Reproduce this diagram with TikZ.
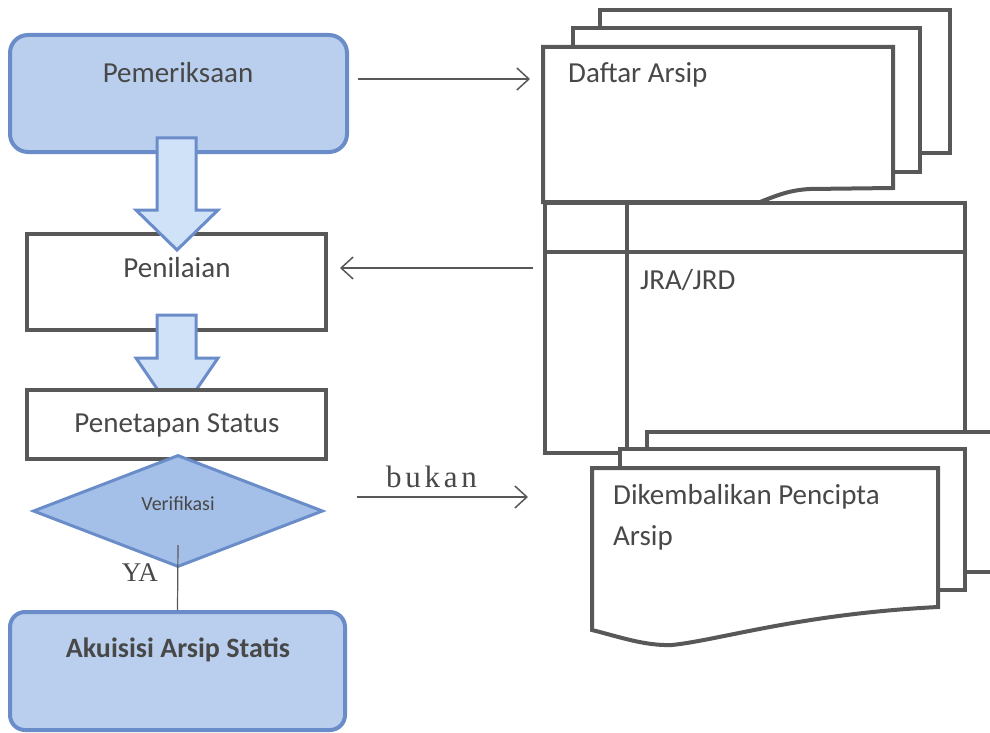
\documentclass[tikz,border=0pt]{standalone}
\usepackage{fontspec}
\setmainfont{Carlito}
\newfontfamily\serifteks{Liberation Serif}
\newfontfamily\serifjarang[LetterSpace=12]{Liberation Serif}
\usepackage{xcolor}
\usetikzlibrary{shapes.geometric, positioning, arrows.meta}

\definecolor{birutepi}{RGB}{106,141,202}
\definecolor{biruisi}{RGB}{186,207,238}
\definecolor{birumuda}{RGB}{208,226,247}
\definecolor{biruwajik}{RGB}{164,192,232}
\definecolor{abugaris}{RGB}{88,88,88}
\definecolor{abuteks}{RGB}{72,72,72}

\tikzset{
  kotakbiru/.style={draw=birutepi, fill=biruisi, line width=4pt, rounded corners=18pt, inner sep=0pt},
  kotak/.style={draw=abugaris, fill=white, line width=4pt, inner sep=0pt},
  wajik/.style={diamond, draw=birutepi, fill=biruwajik, line width=3pt, inner sep=0pt},
  judul/.style={text=abuteks, font=\fontsize{29}{41}\selectfont, inner sep=0pt},
  kertas/.style={draw=abugaris, fill=white, line width=4pt},
  panahblok/.style={draw=birutepi, fill=birumuda, line width=3pt},
  panah/.style={draw=abugaris, line width=1.5pt, -{Straight Barb[length=12pt, width=22pt, line width=1.5pt]}},
}

\begin{document}
\begin{tikzpicture}[x=1pt, y=-1pt]
  \clip (0, 0) rectangle (990, 733);
  \useasboundingbox (0, 0) rectangle (990, 733);

  % Alur sebelah kiri
  \node[kotakbiru, minimum width=337pt, minimum height=117pt] (periksa) at (178.5, 93.5) {};
  \node[judul] (tperiksa) at (178, 73) {Pemeriksaan};
  \node[kotak, minimum width=299pt, minimum height=96pt] (nilai) at (176.5, 282) {};
  \node[judul] (tnilai) at (177, 268) {Penilaian};

  % Panah blok
  \draw[panahblok] (157, 138) -- (196, 138) -- (196, 210) -- (218, 210) -- (177, 250)
    -- (136, 210) -- (157, 210) -- cycle;
  \draw[panahblok] (157, 315) -- (196, 315) -- (196, 358) -- (218, 358) -- (177, 418)
    -- (136, 358) -- (157, 358) -- cycle;

  \node[kotak, minimum width=299pt, minimum height=69pt] (tetap) at (176.5, 424.5) {};
  \node[judul] (ttetap) at (177, 425) {Penetapan Status};
  \node[wajik, minimum width=290pt, minimum height=112pt] (verif) at (178, 511) {};
  \node[judul, font=\fontsize{20}{24}\selectfont] (tverif) at (178, 504) {Verifikasi};
  \node[kotakbiru, rounded corners=15pt, minimum width=335pt, minimum height=118pt] (akuisisi) at (177.5, 671) {};
  \node[judul, font=\fontsize{28}{34}\selectfont\bfseries] (takuisisi) at (178, 650) {Akuisisi Arsip Statis};

  \draw[abugaris, line width=1.2pt] ([yshift=-34pt]verif.center)
    -- node[pos=0.42, left=16pt, text=abuteks, font=\serifteks\fontsize{27}{30}\selectfont] (tya) {YA} (akuisisi.north);

  % Tumpukan daftar arsip
  \draw[kertas] (600, 10) rectangle (950, 153);
  \draw[kertas] (573, 28) rectangle (920, 172);
  \draw[kertas] (543, 202) -- (543, 47) -- (893, 47) -- (893, 188) -- (810, 189)
    .. controls (790, 190) and (778, 195) .. (760, 202) -- cycle;
  \node[judul, anchor=west] (tdaftar) at (568, 75) {Daftar Arsip};

  % Tabel JRA/JRD
  \draw[kertas] (545, 203) rectangle (965, 453);
  \draw[kertas] (545, 252) -- (965, 252);
  \draw[kertas] (627, 203) -- (627, 453);
  \node[judul, anchor=west] (tjra) at (640, 280) {JRA/JRD};

  % Tumpukan dikembalikan
  \draw[kertas] (647, 432) rectangle (1000, 572);
  \draw[kertas] (620, 449) rectangle (965, 590);
  \draw[kertas] (592, 468) -- (938, 468) -- (938, 607)
    .. controls (800, 614) and (720, 640) .. (672, 645)
    .. controls (645, 646) and (620, 637) .. (592, 630) -- cycle;
  \node[judul, anchor=north west, align=left] (tkembali) at (613, 484) {Dikembalikan Pencipta\\Arsip};

  % Penghubung
  \coordinate (daftarkiri) at (543, 79);
  \coordinate (jrakiri) at (545, 268);
  \coordinate (kembalikiri) at (592, 497);
  \draw[panah, shorten <=9pt, shorten >=13pt] (periksa.east |- daftarkiri) -- (daftarkiri);
  \draw[panah, shorten <=12pt, shorten >=12pt] (jrakiri) -- (nilai.east |- jrakiri);
  \draw[panah, shorten <=32pt, shorten >=64pt] (verif.east |- kembalikiri)
    -- node[pos=0.40, above=5pt, text=abuteks, font=\serifjarang\fontsize{31}{34}\selectfont] (tbukan) {bukan} (kembalikiri);
\end{tikzpicture}
\end{document}
